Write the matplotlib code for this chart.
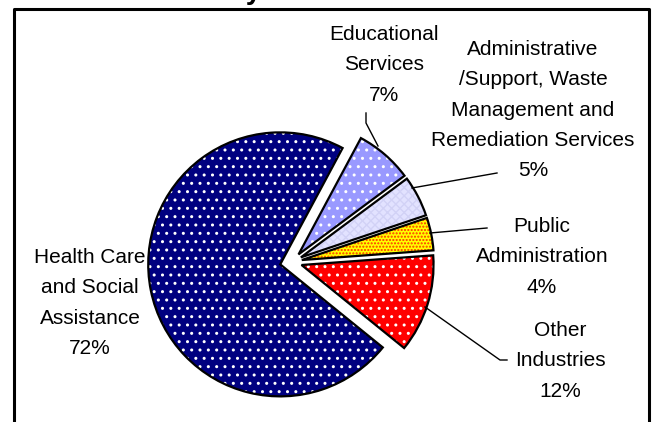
import matplotlib
matplotlib.use('Agg')
import matplotlib.pyplot as plt
from matplotlib import font_manager
from matplotlib.patches import Wedge
from matplotlib.lines import Line2D

# a narrow sans is closest to the original; fall back to plain Liberation Sans
_names = {f.name for f in font_manager.fontManager.ttflist}
if 'Liberation Sans Narrow' in _names:
    LABEL_FONT, LABEL_SIZE, LINE_SP = 'Liberation Sans Narrow', 17.5, 1.5
else:
    LABEL_FONT, LABEL_SIZE, LINE_SP = 'Liberation Sans', 15, 1.75
plt.rcParams['font.family'] = [LABEL_FONT, 'DejaVu Sans']
plt.rcParams['hatch.linewidth'] = 1.0

# Industry shares (percent)
CATEGORIES = ['Health Care\nand Social\nAssistance',
              'Educational\nServices',
              'Administrative\n/Support, Waste\nManagement and\nRemediation Services',
              'Public\nAdministration',
              'Other\nIndustries']
SHARES = [72, 7, 5, 4, 12]

COLORS = ['#000080', '#9999FF', '#E2E2FF', '#FFFF00', '#FF0000']
HATCHES = ['..', '..', 'xxxx', '.....', '..']
HATCH_COLORS = ['white', 'white', '#D2D2F6', '#FF3000', 'white']
EXPLODE = [12, 10, 10, 10, 10]   # offsets in pixels

W, H = 662, 422
fig = plt.figure(figsize=(W / 100, H / 100), dpi=100)
ax = fig.add_axes([0, 0, 1, 1])

wedges, _ = ax.pie(SHARES, explode=EXPLODE, colors=COLORS, startangle=-39,
                   counterclock=False, center=(292, 160), radius=132,
                   wedgeprops=dict(linewidth=0), frame=True)

for w, hatch, hc in zip(wedges, HATCHES, HATCH_COLORS):
    ax.add_patch(Wedge(w.center, w.r, w.theta1, w.theta2, facecolor='none',
                       edgecolor=hc, linewidth=0, hatch=hatch, zorder=3))
    ax.add_patch(Wedge(w.center, w.r, w.theta1, w.theta2, facecolor='none',
                       edgecolor='black', linewidth=1.6, zorder=4))

# label text positions (pixel coords, y from top)
label_pos = [(90, 303), (384, 65), (533, 110), (542, 257), (560, 361)]
pct_labels = [f'{c}\n{v}%' for c, v in zip(CATEGORIES, SHARES)]
for (x, y), txt in zip(label_pos, pct_labels):
    ax.text(x, H - y, txt, ha='center', va='center', fontsize=LABEL_SIZE,
            linespacing=LINE_SP, zorder=5)

# leader lines
leaders = [
    [(366, 113), (366, 123), (378, 146)],
    [(497, 173), (412, 188)],
    [(487, 228), (430, 233)],
    [(425, 307), (500, 360), (507, 360)],
]
for pts in leaders:
    ax.plot([p[0] for p in pts], [H - p[1] for p in pts], color='black',
            linewidth=1.0, zorder=5)

ax.set_xlim(0, W)
ax.set_ylim(0, H)
ax.set_aspect('equal')
ax.axis('off')

# chart border (bottom edge falls outside the picture)
fig.add_artist(Line2D([14 / W, 14 / W, 649 / W, 649 / W],
                      [0, 1 - 9 / H, 1 - 9 / H, 0], transform=fig.transFigure,
                      color='black', linewidth=2.2))

# title, mostly cut off above the picture
fig.text(261 / W, 1 + 1 / H, 'by', ha='right', va='baseline', fontsize=20,
         fontweight='bold', family='Liberation Sans')

fig.savefig('out.png', dpi=100)
